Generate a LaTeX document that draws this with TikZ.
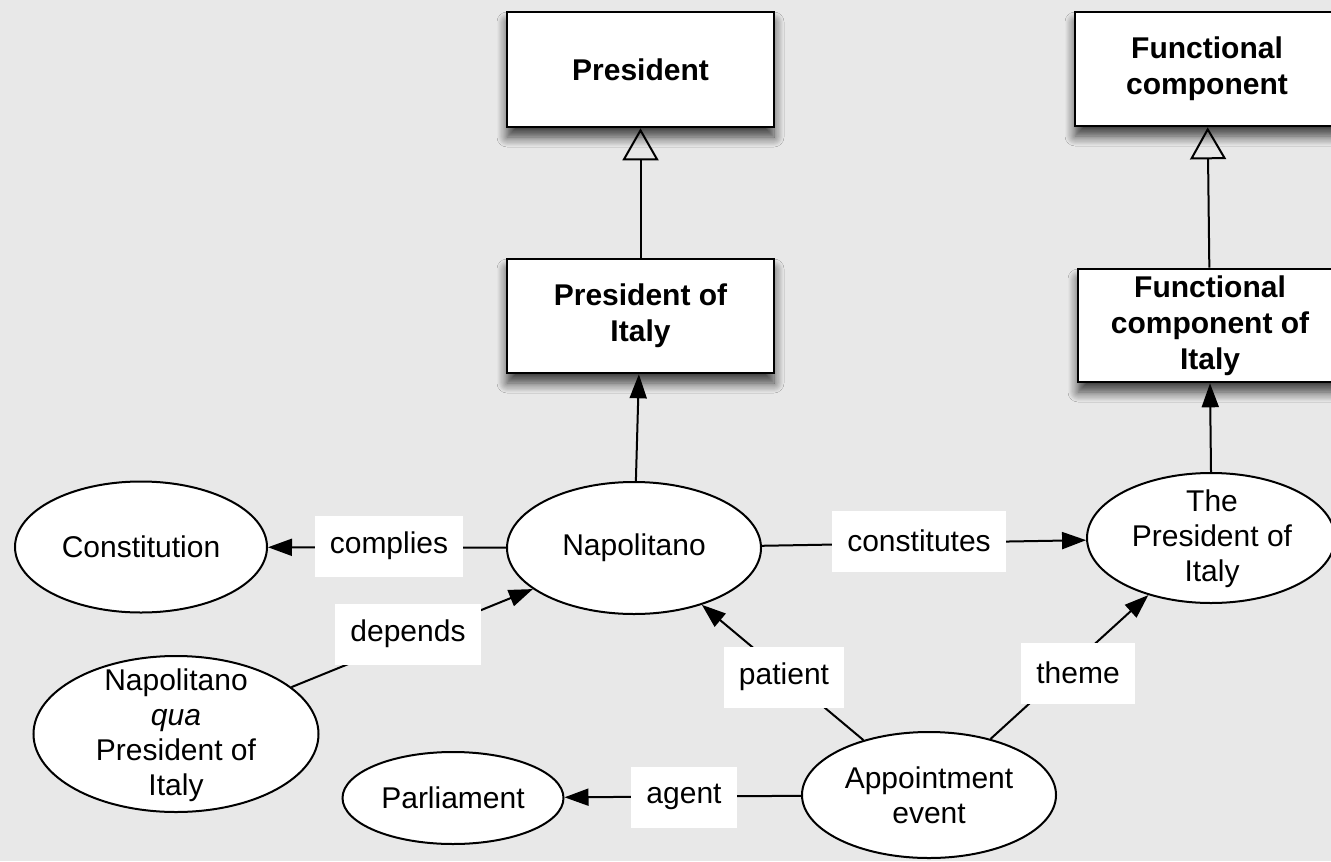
\documentclass[tikz,border=0pt]{standalone}
\usepackage{fontspec}
\setmainfont{Liberation Sans}
\usetikzlibrary{arrows.meta,shapes.geometric,shadows.blur}
\definecolor{bg}{HTML}{E8E8E8}
\begin{document}
\begin{tikzpicture}[x=0.5pt,y=-0.5pt,
  every node/.style={font=\fontsize{15pt}{17.5pt}\selectfont, align=center, inner sep=0pt},
  classbox/.style={draw=black, line width=1.3pt, fill=white,
    font=\fontsize{15pt}{18pt}\selectfont\bfseries,
    blur shadow={shadow xshift=0pt, shadow yshift=-5pt, shadow blur radius=5pt, shadow blur steps=10, shadow opacity=75}},
  ell/.style={draw=black, line width=1pt, fill=white, ellipse},
  txt/.style={font=\fontsize{15pt}{17.5pt}\selectfont},
  lbl/.style={fill=white, inner xsep=7.5pt, minimum height=30.5pt},
  rel/.style={line width=1pt, -{Triangle[length=12pt,width=8.5pt]}},
  isa/.style={line width=1pt, -{Triangle[open,length=16pt,width=18pt]}}
]
\fill[bg] (0,0) rectangle (1331,861);
\useasboundingbox (0,0) rectangle (1331,861);

% class boxes
\node[classbox, minimum width=133.5pt, minimum height=57.5pt] (pres) at (640.5,69.5) {President};
\node[classbox, minimum width=132pt, minimum height=57pt] (funccomp) at (1207,69) {Functional\\component};
\node[classbox, minimum width=133.5pt, minimum height=57pt] (presitaly) at (640.5,316) {President of\\Italy};
\node[classbox, minimum width=132pt, minimum height=56.5pt] (funcitaly) at (1210,325.5) {Functional\\component of\\Italy};

% ellipses
\node[ell, minimum width=126pt, minimum height=65.5pt] (const) at (141,547) {};
\node[txt] (constT) at (const) {Constitution};
\node[ell, minimum width=127pt, minimum height=66pt] (napo) at (634,548) {};
\node[txt] (napoT) at (napo) {Napolitano};
\node[ell, minimum width=124pt, minimum height=65pt] (thepres) at (1211,538) {};
\node[txt] (thepresT) at (1212,539) {The\\President of\\Italy};
\node[ell, minimum width=142.5pt, minimum height=78pt] (qua) at (176,734) {};
\node[txt] (quaT) at (176,735) {Napolitano\\\textit{qua}\\President of\\Italy};
\node[ell, minimum width=110.5pt, minimum height=46pt] (parl) at (453,798) {};
\node[txt] (parlT) at (parl) {Parliament};
\node[ell, minimum width=127pt, minimum height=63pt] (appt) at (929,795) {};
\node[txt] (apptT) at (929,795) {Appointment\\event};

% connectors
\draw[rel] (napo) -- (const);
\draw[rel] (qua) -- (napo);
\draw[rel] (napo) -- (thepres);
\draw[rel] (appt) -- (napo);
\draw[rel] (appt) -- (thepres);
\draw[rel] (appt) -- (parl);
\draw[rel] (napo) -- (presitaly);
\draw[rel] (thepres.north) -- (funcitaly.south);
\draw[isa] (presitaly) -- (pres);
\draw[isa] (funcitaly) -- (funccomp);

% labels
\node[lbl] (complies) at (389,546) {complies};
\node[lbl] (depends) at (408,634) {depends};
\node[lbl] (constitutes) at (919,541) {constitutes};
\node[lbl] (patient) at (784,677) {patient};
\node[lbl] (theme) at (1078,673) {theme};
\node[lbl] (agent) at (684,797) {agent};
\end{tikzpicture}
\end{document}
